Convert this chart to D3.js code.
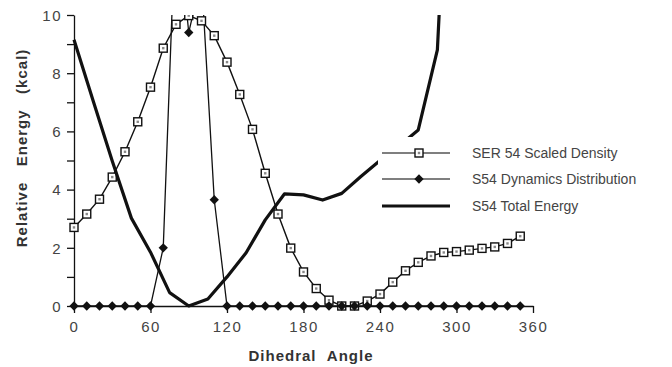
<!DOCTYPE html>
<html>
<head>
<meta charset="utf-8">
<script src="https://cdn.jsdelivr.net/npm/d3@7"></script>
<style>
  body { margin: 0; background: #fff; }
  text { font-family: "Liberation Sans", Arial, sans-serif; }
</style>
</head>
<body>
<div id="chart"></div>
<script>
// values
const densityAngles = [0, 10, 20, 30, 40, 50, 60, 70, 80, 90, 100, 110, 120, 130, 140, 150, 160, 170,
  180, 190, 200, 210, 220, 230, 240, 250, 260, 270, 280, 290, 300, 310, 320, 330, 340, 350];
const densityValues = [2.70, 3.16, 3.67, 4.43, 5.30, 6.33, 7.52, 8.86, 9.68, 9.98, 9.80, 9.29, 8.38, 7.27,
  6.07, 4.56, 3.16, 1.99, 1.17, 0.60, 0.20, 0, 0, 0.17, 0.41, 0.82, 1.21, 1.50, 1.72, 1.84, 1.87, 1.92,
  1.98, 2.03, 2.15, 2.40];
const dynamicsAngles = densityAngles;
const dynamicsValues = [0, 0, 0, 0, 0, 0, 0, 2.0, 13.8, 9.4, 11.3, 3.65, 0, 0, 0, 0, 0, 0,
  0, 0, 0, 0, 0, 0, 0, 0, 0, 0, 0, 0, 0, 0, 0, 0, 0, 0];
const energyAngles = [0, 15, 30, 45, 60, 75, 90, 105, 120, 135, 150, 165, 180, 195, 210, 225, 240, 255,
  270, 285, 300];
const energyValues = [9.15, 7.05, 4.98, 3.02, 1.85, 0.46, 0.0, 0.24, 1.0, 1.83, 2.96, 3.85, 3.82, 3.64,
  3.87, 4.45, 5.0, 5.5, 6.05, 8.8, 22];
const xTicks = [0, 60, 120, 180, 240, 300, 360];
const yTicks = [0, 1, 2, 3, 4, 5, 6, 7, 8, 9, 10];
const legendLabels = ["SER 54 Scaled Density", "S54 Dynamics Distribution", "S54 Total Energy"];

const W = 672, H = 367;
const ink = "#111";
const textCol = "#444";

const svg = d3.select("#chart").append("svg")
  .attr("width", W).attr("height", H);

const x = d3.scaleLinear().domain([0, 360]).range([74, 533]);
const y = d3.scaleLinear().domain([0, 10]).range([306, 15]);

svg.append("clipPath").attr("id", "plot")
  .append("rect")
  .attr("x", x(0) - 6).attr("y", y(10))
  .attr("width", x(360) - x(0) + 12).attr("height", y(0) - y(10) + 6);

// axes
const xAxis = svg.append("g")
  .attr("transform", `translate(0,${y(0)})`)
  .call(d3.axisBottom(x).tickValues(xTicks).tickSize(7).tickSizeOuter(0).tickPadding(6));
const yAxis = svg.append("g")
  .attr("transform", `translate(${x(0)},0)`)
  .call(d3.axisLeft(y).tickValues(yTicks).tickSize(7).tickSizeOuter(0).tickPadding(5)
    .tickFormat((d) => (d % 2 === 0 ? d : "")));

[xAxis, yAxis].forEach((g) => {
  g.selectAll("path, line").attr("stroke", ink).attr("stroke-width", 1.3);
  g.selectAll("text")
    .attr("fill", textCol)
    .style("font-size", "15px")
    .style("letter-spacing", "1.5px");
});
xAxis.selectAll("text").attr("dy", "0.85em");
yAxis.selectAll("text").attr("dy", "0.35em");

svg.append("text")
  .attr("x", 311).attr("y", 361)
  .attr("text-anchor", "middle")
  .attr("fill", "#333")
  .style("font-size", "15px").style("font-weight", "bold").style("letter-spacing", "1px")
  .text("Dihedral\u00a0\u00a0Angle");

svg.append("text")
  .attr("transform", "translate(27,148) rotate(-90)")
  .attr("text-anchor", "middle")
  .attr("fill", "#333")
  .style("font-size", "15px").style("font-weight", "bold").style("letter-spacing", "1px")
  .text("Relative\u00a0\u00a0\u00a0Energy\u00a0\u00a0\u00a0(kcal)");

const plot = svg.append("g").attr("clip-path", "url(#plot)");

const line = d3.line().x((d) => x(d[0])).y((d) => y(d[1]));

const density = densityAngles.map((a, i) => [a, densityValues[i]]);
const dynamics = dynamicsAngles.map((a, i) => [a, dynamicsValues[i]]);
const energy = energyAngles.map((a, i) => [a, energyValues[i]]);

function drawSquare(g, cx, cy) {
  g.append("rect")
    .attr("x", cx - 4).attr("y", cy - 4).attr("width", 8).attr("height", 8)
    .attr("fill", "#fff").attr("stroke", ink).attr("stroke-width", 1.4);
  g.append("rect")
    .attr("x", cx - 1.2).attr("y", cy - 1.2).attr("width", 2.4).attr("height", 2.4)
    .attr("fill", "#888");
}

function drawDiamond(g, cx, cy) {
  g.append("rect")
    .attr("x", -3.3).attr("y", -3.3).attr("width", 6.6).attr("height", 6.6)
    .attr("transform", `translate(${cx},${cy}) rotate(45)`)
    .attr("fill", ink);
}

// lines first, markers on top
plot.append("path").datum(dynamics)
  .attr("fill", "none").attr("stroke", ink).attr("stroke-width", 1.3)
  .attr("d", line);
plot.append("path").datum(density)
  .attr("fill", "none").attr("stroke", ink).attr("stroke-width", 1.4)
  .attr("d", line);
density.forEach((d) => drawSquare(plot, x(d[0]), y(d[1])));
dynamics.filter((d) => d[1] <= 10).forEach((d) => drawDiamond(plot, x(d[0]), y(d[1])));

// total energy
plot.append("path").datum(energy)
  .attr("fill", "none").attr("stroke", ink).attr("stroke-width", 3.2)
  .attr("stroke-linejoin", "round")
  .attr("d", line);

// legend
const legend = svg.append("g");
legend.append("rect")
  .attr("x", 378).attr("y", 137).attr("width", 294).attr("height", 82)
  .attr("fill", "#fff");
const rowY = [153, 179, 206];
legendLabels.forEach((label, i) => {
  legend.append("line")
    .attr("x1", 382).attr("x2", 450).attr("y1", rowY[i]).attr("y2", rowY[i])
    .attr("stroke", i === 2 ? ink : "#555")
    .attr("stroke-width", i === 2 ? 3.2 : 1.5);
  if (i === 0) drawSquare(legend, 419, rowY[i]);
  if (i === 1) drawDiamond(legend, 419, rowY[i]);
  legend.append("text")
    .attr("x", 472).attr("y", rowY[i]).attr("dy", "0.35em")
    .attr("fill", textCol)
    .style("font-size", "14px")
    .text(label);
});
</script>
</body>
</html>
